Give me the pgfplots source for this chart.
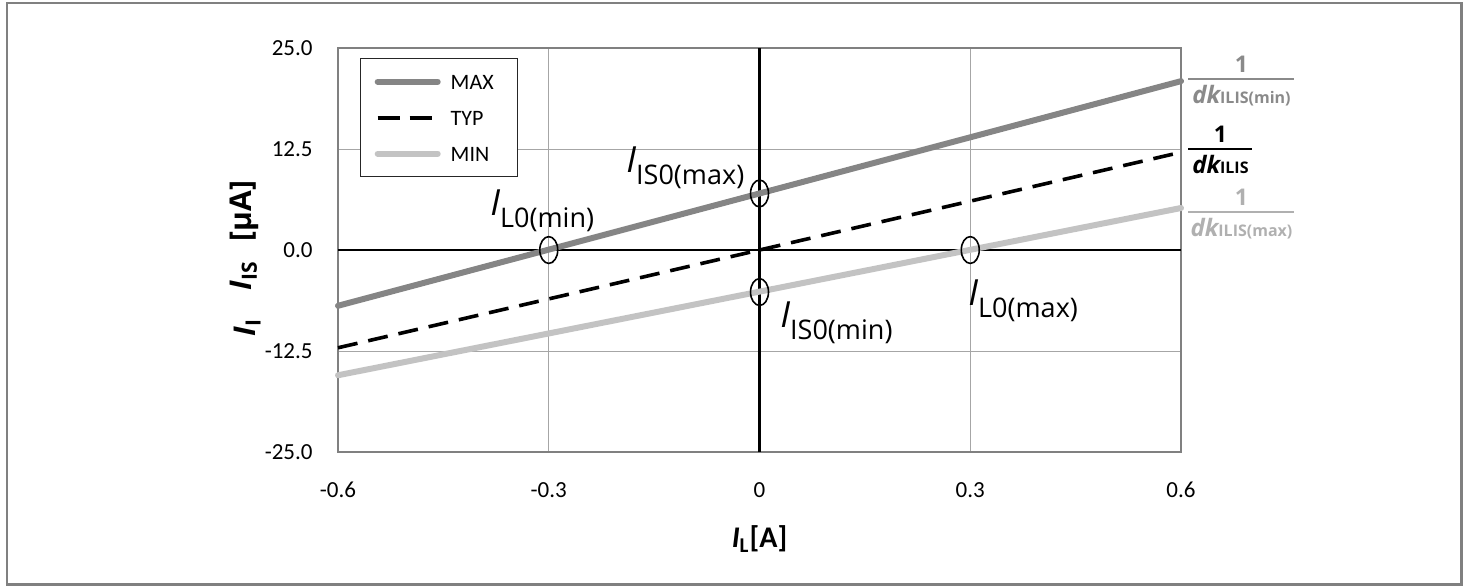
\documentclass[border=0pt]{standalone}
\usepackage{fontspec}
\setmainfont{Carlito}
\newfontfamily\os{Open Sans}
\usepackage{pgfplots}
\pgfplotsset{compat=1.18}
\definecolor{maxc}{HTML}{858585}
\definecolor{minc}{HTML}{C3C3C3}
\definecolor{framec}{HTML}{808080}
\definecolor{gridc}{HTML}{A6A6A6}
\definecolor{fmax}{HTML}{8A8A8A}
\definecolor{fmin}{HTML}{B0B0B0}
\begin{document}
\begin{tikzpicture}
\useasboundingbox (0,0) rectangle (735pt,-293pt);
\draw[framec, line width=1.2pt] (3.5pt,-1.5pt) rectangle (730.75pt,-292.25pt);
\begin{axis}[
  at={(169pt,-226pt)}, anchor=south west,
  scale only axis, width=421.5pt, height=202pt,
  clip=false,
  xmin=-0.6, xmax=0.6, ymin=-25, ymax=25,
  xtick={-0.6,-0.3,0.3,0.6}, xticklabels={-0.6,-0.3,0.3,0.6},
  extra x ticks={0}, extra x tick labels={0},
  ytick={-25,-12.5,12.5,25}, yticklabels={-25.0,-12.5,12.5,25.0},
  extra y ticks={0}, extra y tick labels={0.0},
  xmajorgrids=true, ymajorgrids=true,
  major grid style={gridc, line width=0.5pt},
  major tick length=0pt,
  axis line style={framec, line width=0.8pt},
  tick label style={font=\fontsize{11.5}{11.5}\selectfont, inner sep=0pt},
  yticklabel style={anchor=east, xshift=-12.5pt},
  xticklabel style={anchor=north, yshift=-15pt},
  xlabel={\bfseries\itshape I\textsubscript{\upshape L}\upshape[A]},
  xlabel style={at={(rel axis cs:0.5,0)}, anchor=center, yshift=-43.5pt, font=\fontsize{15}{15}\selectfont},
  ylabel={\os\bfseries\raisebox{-2pt}{{\itshape I}\textsubscript{I}}\hspace{14pt}{\itshape I}\textsubscript{IS}\hspace{10pt}[µA]},
  ylabel style={at={(rel axis cs:-0.11,0.479)}, anchor=center, font=\fontsize{15}{15}\selectfont},
  legend style={at={(0,1)}, anchor=north west, xshift=11pt, yshift=-5pt,
    draw=black!85, line width=0.7pt, fill=white,
    font=\fontsize{11}{11}\selectfont,
    inner xsep=7pt, inner ysep=5.5pt, row sep=6pt, column sep=5pt,
    nodes={inner xsep=0pt, inner ysep=2pt, text height=8pt, text depth=0pt}},
  legend cell align=left,
  legend image code/.code={\draw[#1] (0pt,0pt) -- (30pt,0pt);},
]
\draw[black, line width=1.2pt] (axis cs:0,-25) -- (axis cs:0,25);
\draw[black, line width=1.2pt] (axis cs:-0.6,0) -- (axis cs:0.6,0);
\addplot[maxc, line width=3pt, line cap=round] coordinates {(-0.6,-6.9) (0.6,20.9)};
\addlegendentry{\makebox[26.5pt][l]{MAX}}
\addplot[black, line width=1.8pt, dash pattern=on 10pt off 5.5pt,
  legend image code/.code={\draw[black, line width=1.8pt, dash pattern=on 11pt off 5pt] (0pt,0pt) -- (27pt,0pt);}]
  coordinates {(-0.6,-12.1) (0.6,12.1)};
\addlegendentry{\makebox[26.5pt][l]{TYP}}
\addplot[minc, line width=3pt, line cap=round] coordinates {(-0.6,-15.5) (0.6,5.2)};
\addlegendentry{\makebox[26.5pt][l]{MIN}}
\addplot[only marks, mark=o, mark size=6.7pt, mark options={xscale=0.67, line width=0.8pt, black}, forget plot]
  coordinates {(-0.3,0) (0,7) (0,-5.2) (0.3,0)};
% annotations
\node[anchor=base west, inner sep=0pt] at (axis cs:-0.3836,4.33)
  {\os\fontsize{18}{18}\selectfont\itshape I\upshape\raisebox{-6pt}{\fontsize{13.5}{13.5}\selectfont L0(min)}};
\node[anchor=base west, inner sep=0pt] at (axis cs:-0.190,9.65)
  {\os\fontsize{18}{18}\selectfont\itshape I\upshape\raisebox{-6pt}{\fontsize{13.5}{13.5}\selectfont IS0(max)}};
\node[anchor=base west, inner sep=0pt] at (axis cs:0.0292,-9.53)
  {\os\fontsize{18}{18}\selectfont\itshape I\upshape\raisebox{-6pt}{\fontsize{13.5}{13.5}\selectfont IS0(min)}};
\node[anchor=base west, inner sep=0pt] at (axis cs:0.2968,-6.81)
  {\os\fontsize{18}{18}\selectfont\itshape I\upshape\raisebox{-6pt}{\fontsize{13.5}{13.5}\selectfont L0(max)}};
% fractions
\node[fill=fmax, inner sep=0pt, minimum width=53pt, minimum height=0.8pt, anchor=west, xshift=3.5pt] (f1) at (axis cs:0.6,21.16) {};
\node[anchor=south, inner sep=2.5pt, text=fmax] at (f1.north) {\os\bfseries\fontsize{11.5}{11.5}\selectfont 1};
\node[anchor=north, inner sep=2.5pt, text=fmax] at (f1.south) {\os\bfseries\fontsize{12}{12}\selectfont\itshape dk\upshape\fontsize{8}{8}\selectfont ILIS(min)};
\node[fill=black, inner sep=0pt, minimum width=32pt, minimum height=0.8pt, anchor=west, xshift=3.5pt] (f2) at (axis cs:0.6,12.5) {};
\node[anchor=south, inner sep=2.5pt, text=black] at (f2.north) {\os\bfseries\fontsize{11.5}{11.5}\selectfont 1};
\node[anchor=north, inner sep=2.5pt, text=black] at (f2.south) {\os\bfseries\fontsize{12}{12}\selectfont\itshape dk\upshape\fontsize{8}{8}\selectfont ILIS};
\node[fill=fmin, inner sep=0pt, minimum width=53pt, minimum height=0.8pt, anchor=west, xshift=3.5pt] (f3) at (axis cs:0.6,4.70) {};
\node[anchor=south, inner sep=2.5pt, text=fmin] at (f3.north) {\os\bfseries\fontsize{11.5}{11.5}\selectfont 1};
\node[anchor=north, inner sep=2.5pt, text=fmin] at (f3.south) {\os\bfseries\fontsize{12}{12}\selectfont\itshape dk\upshape\fontsize{8}{8}\selectfont ILIS(max)};
\end{axis}
\end{tikzpicture}
\end{document}
